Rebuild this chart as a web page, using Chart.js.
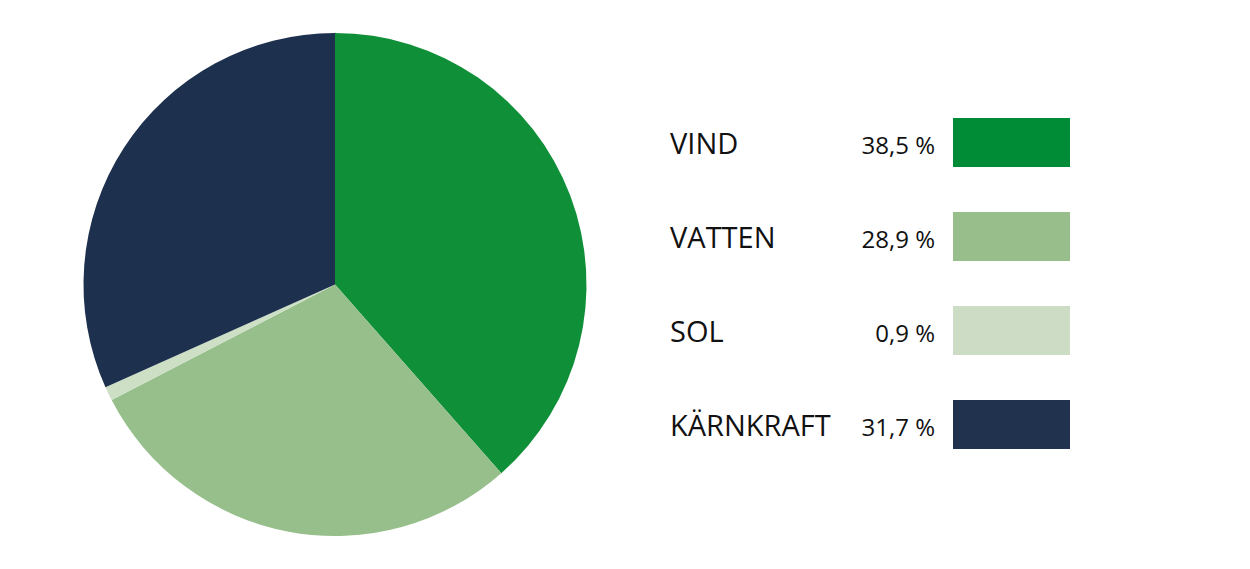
<!DOCTYPE html>
<html>
<head>
<meta charset="utf-8">
<script src="https://cdn.jsdelivr.net/npm/chart.js@4/dist/chart.umd.min.js"></script>
<style>
  html, body { margin: 0; padding: 0; background: #fff; }
  body { width: 1250px; height: 569px; position: relative; overflow: hidden; font-family: 'Open Sans', 'Noto Sans', sans-serif; }
  #wrap { position: absolute; left: 0; top: 0; width: 670px; height: 569px; }
  #legend { position: absolute; left: 670px; top: 118px; }
  .row { position: relative; height: 49px; margin-bottom: 45px; width: 420px; }
  .name { position: absolute; left: 0; top: 0; line-height: 49px; font-size: 29px; color: #111; }
  .pct { position: absolute; right: 155px; top: 2px; line-height: 49px; font-size: 24px; color: #111; }
  .box { position: absolute; left: 283px; top: 0; width: 117px; height: 49px; }
</style>
</head>
<body>
<div id="wrap"><canvas id="pie"></canvas></div>
<div id="legend"></div>
<script>
// Elproduktion per kraftslag, andel i procent
const labels = ['VIND', 'VATTEN', 'SOL', 'KÄRNKRAFT'];
const values = [38.5, 28.9, 0.9, 31.7];
const pieColors = ['#0f8f37', '#97bf8b', '#cde0c6', '#1d314f'];
const boxColors = ['#008c37', '#98bf8b', '#cddcc5', '#21324f'];

const fmt = (v) => v.toFixed(1).replace('.', ',') + ' %';

new Chart(document.getElementById('pie').getContext('2d'), {
  type: 'pie',
  data: { labels, datasets: [{ data: values, backgroundColor: pieColors, borderWidth: 0 }] },
  options: {
    responsive: true, maintainAspectRatio: false, animation: false,
    layout: { padding: 33 },
    plugins: { legend: { display: false }, tooltip: { enabled: false } }
  }
});

// legend on the right: name, share, colour box
const legend = document.getElementById('legend');
labels.forEach((l, i) => {
  const row = document.createElement('div'); row.className = 'row';
  row.innerHTML = `<span class="name">${l}</span><span class="pct">${fmt(values[i])}</span><span class="box" style="background:${boxColors[i]}"></span>`;
  legend.appendChild(row);
});
</script>
</body>
</html>
